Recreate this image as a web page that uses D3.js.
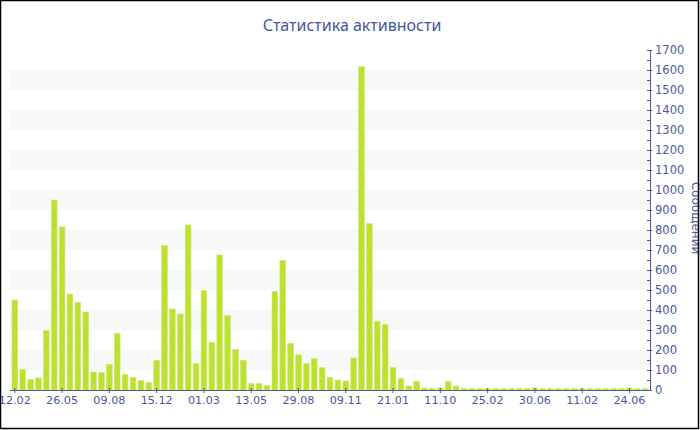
<!DOCTYPE html>
<html><head><meta charset="utf-8">
<script src="https://cdn.jsdelivr.net/npm/d3@7/dist/d3.min.js"></script>
<style>html,body{margin:0;padding:0;background:#fff;}svg{display:block;}</style>
</head><body>
<svg id="c" width="700" height="430"></svg>
<script>
const title = "Статистика активности";
const yTitle = "Сообщений";
const tickLabels = ["12.02","26.05","09.08","15.12","01.03","13.05","29.08","09.11","21.01","11.10","25.02","30.06","11.02","24.06"];
const tickEvery = 6;
const values = [450,103,52,60,297,950,815,480,438,390,90,87,128,283,77,63,47,38,148,722,405,380,825,132,497,238,675,372,203,148,33,33,23,493,648,233,175,132,157,112,62,50,45,160,1617,832,342,328,113,57,20,43,10,8,10,43,20,8,7,7,7,7,7,7,7,7,10,7,7,7,7,7,7,7,7,7,7,7,10,7,7];
const yMax = 1700, yStep = 100;

const svg = d3.select("#c");
const L = 10, R = 650, B = 390, T = 50;
const ink = "#4a5a9c";
const x = d3.scaleBand().domain(d3.range(values.length)).range([L, R]).paddingInner(0.28).paddingOuter(0.25);
const y = d3.scaleLinear().domain([0, yMax]).range([B, T]);

// bands
const bandStarts = d3.range(yStep, yMax - yStep + 1, 2 * yStep);
svg.append("g").selectAll("rect").data(bandStarts).join("rect")
  .attr("x", L).attr("width", R - L)
  .attr("y", d => y(d + yStep)).attr("height", d => y(d) - y(d + yStep))
  .attr("fill", "#f8f8f8");

// bars
svg.append("g").selectAll("rect").data(values).join("rect")
  .attr("x", (d, i) => x(i)).attr("width", x.bandwidth())
  .attr("y", d => y(d)).attr("height", d => y(0) - y(d))
  .attr("fill", "#bde130").attr("stroke", "#cde86a").attr("stroke-width", 0.6);

// bottom axis
const xTickIdx = tickLabels.map((t, k) => k * tickEvery);
const xAxis = d3.axisBottom(x).tickValues(xTickIdx)
  .tickFormat(i => tickLabels[i / tickEvery]).tickSize(3).tickSizeOuter(0);
const gx = svg.append("g").attr("transform", `translate(0,${B})`).call(xAxis);
gx.select(".domain").attr("stroke", ink).attr("d", `M${L},0.5H${R}`);
gx.selectAll(".tick line").attr("stroke", ink).attr("y1", -2).attr("y2", 3);
gx.selectAll(".tick text").attr("fill", ink).attr("font-family", "DejaVu Sans, Verdana, sans-serif")
  .attr("font-size", 11.2).attr("dy", "0.71em").attr("y", 6);

// right axis
const yAxis = d3.axisRight(y).tickValues(d3.range(0, yMax + 1, yStep)).tickFormat(d3.format("d"))
  .tickSize(2).tickSizeOuter(0).tickPadding(3);
const gy = svg.append("g").attr("transform", `translate(${R},0)`).call(yAxis);
gy.select(".domain").attr("stroke", ink);
gy.selectAll(".tick line").attr("stroke", ink).attr("x1", -3).attr("x2", 2);
gy.selectAll(".tick text").attr("fill", ink).attr("font-family", "DejaVu Sans, Verdana, sans-serif").attr("font-size", 11.5);
// minor ticks
svg.append("g").selectAll("line").data(d3.range(yStep / 2, yMax, yStep)).join("line")
  .attr("x1", R - 3).attr("x2", R).attr("y1", d => Math.round(y(d)) + 0.5).attr("y2", d => Math.round(y(d)) + 0.5)
  .attr("stroke", ink);

// title
svg.append("text").attr("x", 352).attr("y", 31).attr("text-anchor", "middle")
  .attr("font-family", "Noto Sans, Open Sans, sans-serif").attr("font-size", 16)
  .attr("fill", "#4357a1").text(title);

// y axis title
svg.append("text").attr("transform", `translate(692,${218}) rotate(90)`).attr("text-anchor", "middle")
  .attr("font-family", "DejaVu Sans, Verdana, sans-serif").attr("font-size", 12)
  .attr("fill", ink).text(yTitle);

// frame
svg.append("rect").attr("x", 0.5).attr("y", 0.5).attr("width", 698).attr("height", 428)
  .attr("fill", "none").attr("stroke", "#000").attr("stroke-width", 1.5);
</script>
</body></html>
